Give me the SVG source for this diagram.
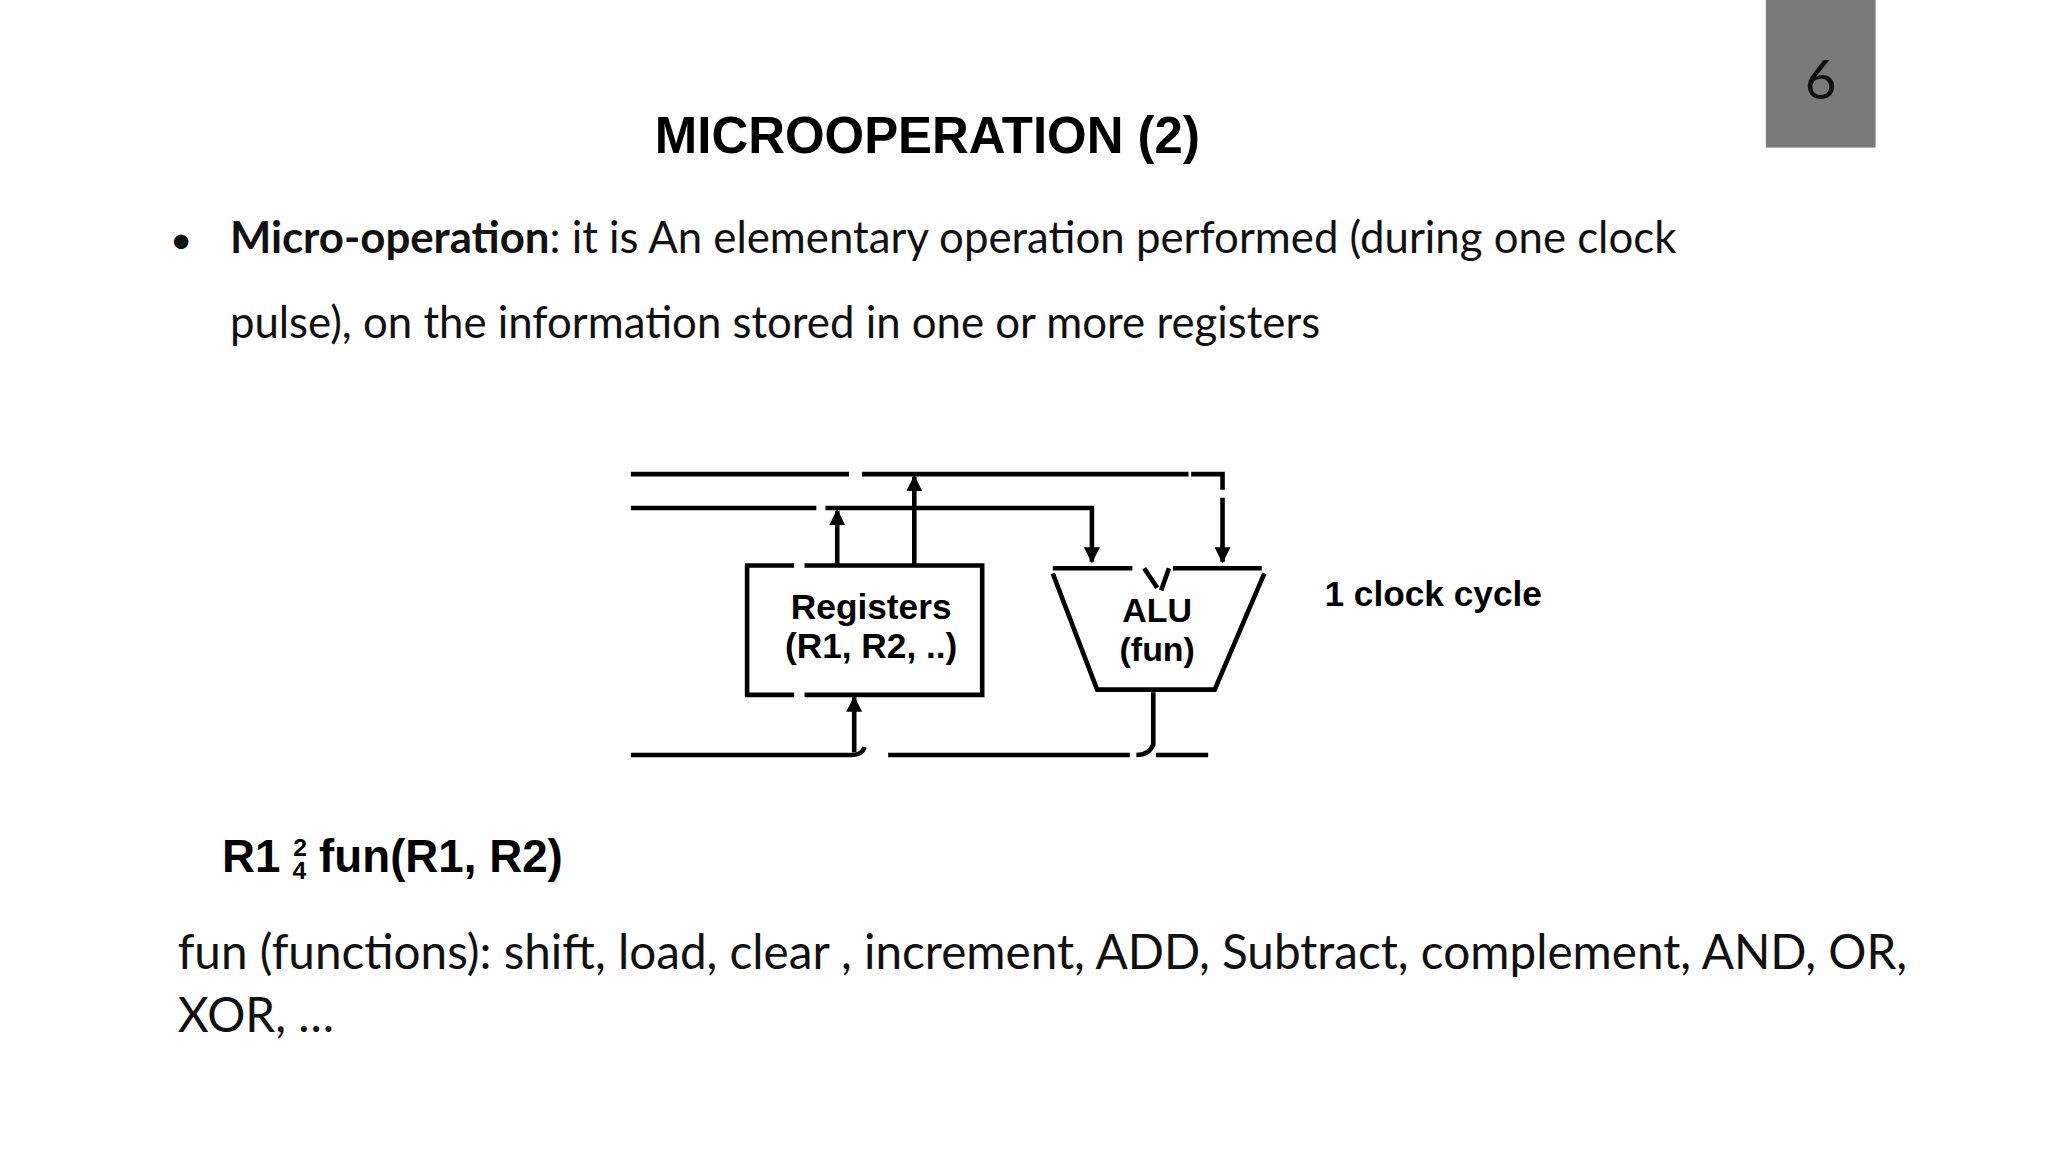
<svg xmlns="http://www.w3.org/2000/svg" width="2048" height="1152" viewBox="0 0 2048 1152">
<style>
.ln{stroke:#000;stroke-width:3.5;fill:none}
.b{font-family:"Liberation Sans",Arial,sans-serif;font-weight:bold;fill:#000}
.l{font-family:Lato,"Open Sans",sans-serif;fill:#111}
</style>
<defs><marker id="ah" viewBox="0 0 10 10" refX="9" refY="5" markerWidth="3.5" markerHeight="3.5" orient="auto"><path d="M0,0L10,5L0,10z" fill="#000"/></marker></defs>
<rect width="2048" height="1152" fill="#fff"/>
<g transform="scale(1.30612)">
<g id="pagenum"><rect x="1352" y="0" width="84" height="113" fill="#7a7a7a"/><text x="1394" y="76" font-size="42" text-anchor="middle" class="l">6</text></g>
<g id="title"><text x="710" y="117" font-size="39" text-anchor="middle" class="b">MICROOPERATION (2)</text></g>
<g id="bullet" class="l" font-size="33.5">
<text x="130" y="194" font-size="30">•</text>
<text x="176" y="194"><tspan font-weight="bold">Micro-operation</tspan>: it is An elementary operation performed (during one clock</text>
<text x="176" y="259">pulse), on the information stored in one or more registers</text>
</g>
<g id="connectors" class="ln">
<path d="M483,363H650M660,363H910"/>
<path d="M912,363H936V375M936,381V430" marker-end="url(#ah)"/>
<path d="M700,432V365" marker-end="url(#ah)"/>
<path d="M483,389H625M632,389H836V430" marker-end="url(#ah)"/>
<path d="M641,432V391" marker-end="url(#ah)"/>
<path d="M654,576V534" marker-end="url(#ah)"/>
<path d="M883,530V570Q880,578 870,578"/>
<path d="M483,578H652Q660,578 662,572M680,578H865M885,578H925"/>
</g>
<g id="registers"><path class="ln" d="M608,433H572V532H608M616,532H752V433H616"/>
<text x="667" y="474" font-size="27" text-anchor="middle" class="b">Registers</text>
<text x="667" y="504" font-size="27" text-anchor="middle" class="b">(R1, R2, ..)</text></g>
<g id="alu"><path class="ln" d="M806,435H867M898,435H966M968,439L930,528H840L806,439M876,435L886,450M895,435L889,452"/>
<text x="886" y="476" font-size="26" text-anchor="middle" class="b">ALU</text>
<text x="886" y="506" font-size="26" text-anchor="middle" class="b">(fun)</text></g>
<g id="clock"><text x="1014" y="464" font-size="27" class="b">1 clock cycle</text></g>
<g id="eq"><text x="170" y="668" font-size="35" class="b">R1 <tspan font-size="19" dy="-13">2</tspan><tspan font-size="19" dx="-11" dy="18">4</tspan><tspan dy="-5"> fun(R1, R2)</tspan></text></g>
<g id="funcs" class="l" font-size="36.5">
<text x="136" y="742">fun (functions):  shift, load, clear , increment, ADD, Subtract, complement, AND, OR,</text>
<text x="136" y="790">XOR, …</text>
</g>
</g>
</svg>
